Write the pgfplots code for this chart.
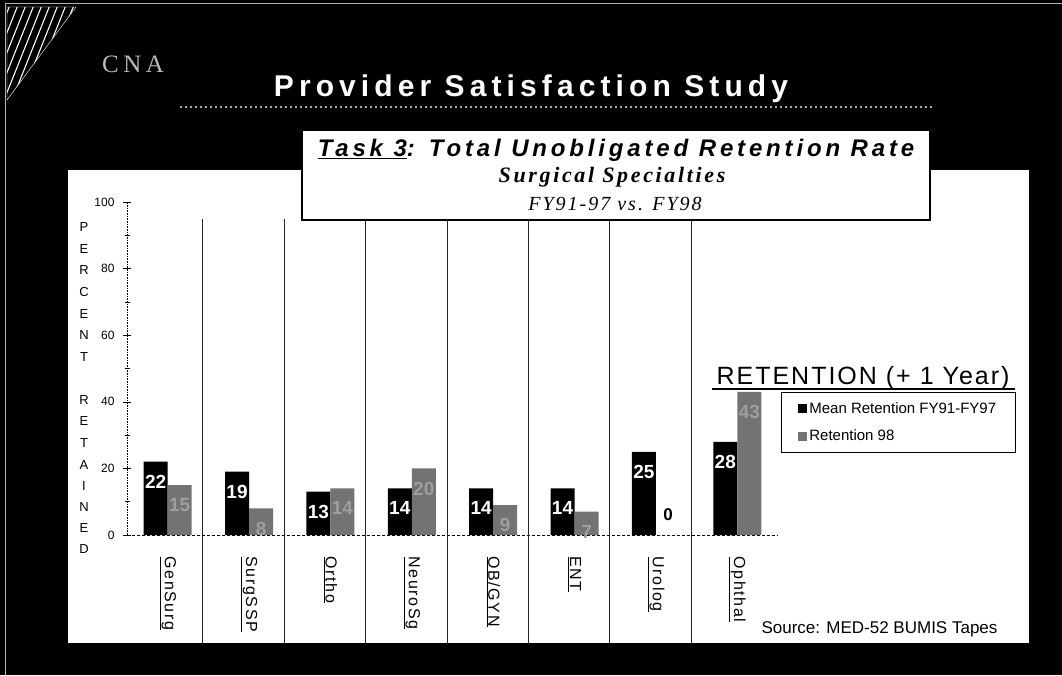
\documentclass[border=0pt]{standalone}
\usepackage{pgfplots}
\pgfplotsset{compat=1.18}
\usepackage{fontspec}
\setmainfont{Liberation Sans}
\newfontfamily\seriffont{Liberation Serif}
\begin{document}
\begin{tikzpicture}
\path[use as bounding box] (0,0) rectangle (1062pt,675pt);
\begin{scope}[x=1pt,y=-1pt,shift={(0pt,675pt)}]
\fill[black] (0,0) rectangle (1062,675);
\draw[gray!60,thin] (5,3) -- (1062,3);
\draw[gray!60,thin] (5,3) -- (5,675);
% hatched triangle
\begin{scope}
\clip (7,7) -- (76,7) -- (7,100) -- cycle;
\foreach \k in {-70,-62,...,80} \draw[white,line width=1.1pt] (\k,105) -- ++(42,-105);
\end{scope}
\draw[white,thin] (7,100) -- (7,7) -- (76,7) -- cycle;
% CNA
\node[text=gray!55!white,font=\seriffont\fontsize{25}{25}\selectfont\addfontfeature{LetterSpace=18}] at (133,64) {CNA};
% title
\node[text=white,font=\bfseries\fontsize{30}{30}\selectfont\addfontfeature{LetterSpace=17}] at (531,89) {Provider Satisfaction Study};
\draw[gray!65,line width=2pt,dash pattern=on 2pt off 3pt] (180,107) -- (935,107);
% panel
\fill[white] (68,170) rectangle (1029,643);
\end{scope}

\begin{axis}[
  at={(127pt,140pt)}, anchor=south west,
  scale only axis, width=651pt, height=333pt,
  xmin=-0.5, xmax=7.5, ymin=0, ymax=100,
  clip=false,
  axis lines*=left,
  x axis line style={black,line width=0.7pt,densely dashed},
  y axis line style={black,line width=0.6pt,densely dotted},
  ytick={0,20,40,60,80,100},
  minor y tick num=1,
  tick align=center,
  major tick length=8pt, minor tick length=5pt,
  y tick style={black,line width=0.6pt},
  /pgf/number format/assume math mode=true,
  yticklabel style={font=\fontsize{12}{12}\selectfont},
  yticklabel shift=5pt,
  xtick={0,1,2,3,4,5,6,7},
  x tick style={draw=none},
  xticklabels={\underline{GenSurg},\underline{SurgSSP},\underline{Ortho},\underline{NeuroSg},\underline{OB/GYN},\underline{ENT},\underline{Urolog},\underline{Ophthal}},
  xticklabel style={rotate=-90,anchor=west,font=\fontsize{16}{16}\selectfont\addfontfeature{LetterSpace=10}},
  xticklabel shift=14pt,
  legend cell align=left,
  legend style={at={(rel axis cs:1.0046,0.429)},anchor=north west,draw=black,line width=0.8pt,
    font=\fontsize{15}{17}\selectfont,inner xsep=17pt,inner ysep=8pt,row sep=11pt},
]
\addplot[ybar,bar width=24pt,bar shift=-12pt,fill=black,draw=none,
  legend image code/.code={\fill[black] (0pt,-4.5pt) rectangle (9pt,4.5pt);},
  nodes near coords,
  every node near coord/.append style={anchor=north,xshift=-12pt,yshift=-10pt,text=white,font=\bfseries\fontsize{19}{19}\selectfont}]
  coordinates {(0,22) (1,19) (2,13) (3,14) (4,14) (5,14) (6,25) (7,28)};
\addlegendentry{Mean Retention FY91-FY97}
\addplot[ybar,bar width=24pt,bar shift=12pt,fill=black!55,draw=none,
  legend image code/.code={\fill[black!55] (0pt,-4.5pt) rectangle (9pt,4.5pt);},
  nodes near coords, point meta=explicit symbolic,
  every node near coord/.append style={anchor=north,xshift=12pt,yshift=-10pt,text=black!38,font=\bfseries\fontsize{19}{19}\selectfont}]
  coordinates {(0,15)[15] (1,8)[8] (2,14)[14] (3,20)[20] (4,9)[9] (5,7)[7] (6,0)[] (7,43)[43]};
\addlegendentry{Retention 98}
\node[font=\bfseries\fontsize{17}{17}\selectfont] at (axis cs:6.15,6) {0};
\pgfplotsinvokeforeach{0.43,1.43,2.43,3.43,4.43,5.43,6.43}{
  \draw[black!85,line width=0.5pt] (axis cs:#1,95) -- (axis cs:#1,-32.4);
}
\end{axis}

\begin{scope}[x=1pt,y=-1pt,shift={(0pt,675pt)}]
% title box
\draw[black,line width=1.5pt,fill=white] (302,130) rectangle (930,220);
\node[font=\bfseries\itshape\fontsize{24}{24}\selectfont\addfontfeature{LetterSpace=16}] at (616,150) {\underline{Task 3}: Total Unobligated Retention Rate};
\node[font=\seriffont\bfseries\itshape\fontsize{22}{22}\selectfont\addfontfeature{LetterSpace=12}] at (612,177) {Surgical Specialties};
\node[font=\seriffont\itshape\fontsize{20}{20}\selectfont\addfontfeature{LetterSpace=10}] at (615,204) {FY91-97 vs. FY98};
% y label letters
\foreach \ch/\yy in {P/227,E/249,R/270,C/292,E/314,N/335,T/357,R/400,E/421,T/443,A/465,I/486,N/507,E/528,D/549}
  \node[font=\fontsize{13}{13}\selectfont] at (84,\yy) {\ch};
% legend heading
\node[anchor=base,font=\fontsize{25}{25}\selectfont\addfontfeature{LetterSpace=8}] at (863,385) {RETENTION (+ 1 Year)};
\draw[black,line width=1.3pt] (712,389) -- (1015,389);
% source
\node[anchor=west,font=\fontsize{17}{17}\selectfont] at (758,629) {Source: MED-52 BUMIS Tapes};
\end{scope}
\end{tikzpicture}
\end{document}
